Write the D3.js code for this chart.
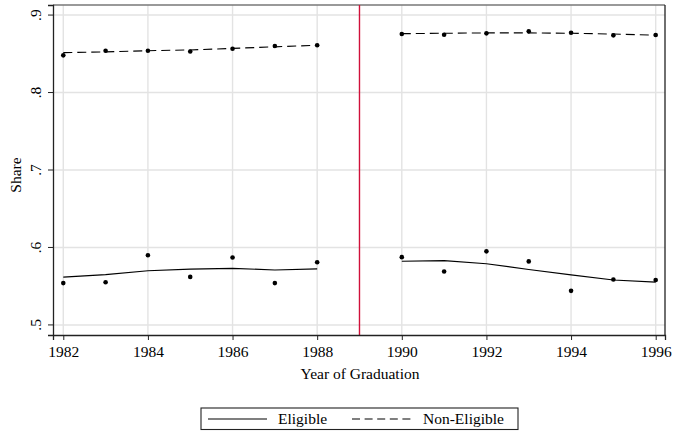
<!DOCTYPE html>
<html><head><meta charset="utf-8">
<script src="https://cdn.jsdelivr.net/npm/d3@7"></script>
<style>body{margin:0;background:#fff}svg{display:block}</style>
</head><body><svg id="c" width="673" height="432"></svg>
<script>
const yearsPre = [1982,1983,1984,1985,1986,1987,1988];
const yearsPost = [1990,1991,1992,1993,1994,1995,1996];
const eligPre = [0.554,0.555,0.590,0.562,0.587,0.554,0.581];
const eligPost = [0.5875,0.569,0.595,0.582,0.544,0.5587,0.558];
const eligFitPre = [0.5617,0.565,0.570,0.572,0.573,0.571,0.5724];
const eligFitPost = [0.5823,0.583,0.579,0.5716,0.5646,0.558,0.5553];
const nonPre = [0.848,0.854,0.854,0.853,0.8565,0.860,0.861];
const nonPost = [0.8755,0.8746,0.8764,0.879,0.8772,0.8738,0.8742];
const nonFitPre = [0.8515,0.8525,0.854,0.855,0.857,0.859,0.861];
const nonFitPost = [0.876,0.8765,0.877,0.877,0.8765,0.8755,0.874];
const xTicks = [1982,1984,1986,1988,1990,1992,1994,1996];
const yTicks = [0.5,0.6,0.7,0.8,0.9];
const yTickLabels = [".5",".6",".7",".8",".9"];
const cutoff = 1989;

const FONT = "'Liberation Serif', 'Times New Roman', Times, 'DejaVu Serif', serif";
const FS = "15.5px";
const svg = d3.select("#c");
const L=53, R=665, T=5, B=335;
const x = d3.scaleLinear().domain([1981.757,1996.22]).range([L,R]);
const y = d3.scaleLinear().domain([0.487,0.913]).range([B,T]);

// grid
svg.append("g").selectAll("line").data(xTicks).join("line")
  .attr("x1",d=>x(d)).attr("x2",d=>x(d)).attr("y1",T).attr("y2",B)
  .attr("stroke","#e3e3e3").attr("stroke-width",1.4);
svg.append("g").selectAll("line").data(yTicks).join("line")
  .attr("y1",d=>y(d)).attr("y2",d=>y(d)).attr("x1",L).attr("x2",R)
  .attr("stroke","#e3e3e3").attr("stroke-width",1.4);

// frame top/right
svg.append("line").attr("x1",L).attr("x2",R).attr("y1",T).attr("y2",T).attr("stroke","#777").attr("stroke-width",1.3);
svg.append("line").attr("x1",R).attr("x2",R).attr("y1",T).attr("y2",B).attr("stroke","#222").attr("stroke-width",1.3);

// cutoff line
svg.append("line").attr("x1",x(cutoff)).attr("x2",x(cutoff)).attr("y1",T).attr("y2",B)
  .attr("stroke","#d0103a").attr("stroke-width",1.4);

// axes
const xa = svg.append("g").attr("transform",`translate(0,${B})`)
  .call(d3.axisBottom(x).tickValues(xTicks).tickFormat(d3.format("d")).tickSize(5).tickPadding(6));
const ya = svg.append("g").attr("transform",`translate(${L},0)`)
  .call(d3.axisLeft(y).tickValues(yTicks).tickFormat((d,i)=>yTickLabels[i]).tickSize(5).tickPadding(0));
[xa,ya].forEach(a=>{a.attr("font-family",FONT).attr("font-size",FS);
  a.select(".domain").attr("stroke","#222").attr("stroke-width",1.3);
  a.selectAll(".tick line").attr("stroke","#222");
  a.selectAll("text").attr("font-family",FONT).attr("font-size",FS).attr("fill","#000");});
xa.selectAll("text").attr("dy","0.72em");
ya.selectAll("text").attr("text-anchor","middle").attr("x",0).attr("dy",0)
  .attr("transform",d=>`translate(${-12},${y(d)}) rotate(-90)`).attr("y",0);
ya.selectAll(".tick").attr("transform",null);
ya.selectAll(".tick line").attr("y1",d=>y(d)).attr("y2",d=>y(d));

// lines
const line = d3.line().x(d=>x(d[0])).y(d=>y(d[1]));
function drawLine(xs,vs,dash){
  svg.append("path").datum(xs.map((v,i)=>[v,vs[i]])).attr("d",line)
    .attr("fill","none").attr("stroke","#000").attr("stroke-width",1.1)
    .attr("stroke-dasharray",dash||null);
}
drawLine(yearsPre,eligFitPre);
drawLine(yearsPost,eligFitPost);
drawLine(yearsPre,nonFitPre,"9,5");
drawLine(yearsPost,nonFitPost,"9,5");

function drawPts(xs,vs){
  svg.append("g").selectAll("circle").data(xs.map((v,i)=>[v,vs[i]])).join("circle")
    .attr("cx",d=>x(d[0])).attr("cy",d=>y(d[1])).attr("r",2.3).attr("fill","#000");
}
drawPts(yearsPre,eligPre);drawPts(yearsPost,eligPost);
drawPts(yearsPre,nonPre);drawPts(yearsPost,nonPost);

function txt(g){return g.append("text").attr("font-family",FONT).attr("font-size",FS).attr("fill","#000");}
// axis titles
txt(svg).attr("x",(L+R)/2+1).attr("y",379).attr("text-anchor","middle").text("Year of Graduation");
txt(svg).attr("transform",`translate(21,${(T+B)/2+5}) rotate(-90)`).attr("text-anchor","middle").text("Share");

// legend
const lg = svg.append("g");
lg.append("rect").attr("x",201).attr("y",408).attr("width",317).attr("height",21.5)
  .attr("fill","#fff").attr("stroke","#222").attr("stroke-width",1.1);
lg.append("line").attr("x1",208).attr("x2",267).attr("y1",419).attr("y2",419).attr("stroke","#000").attr("stroke-width",1.1);
txt(lg).attr("x",278).attr("y",424).text("Eligible");
lg.append("line").attr("x1",352).attr("x2",414).attr("y1",419).attr("y2",419).attr("stroke","#000").attr("stroke-width",1.1).attr("stroke-dasharray","8,4.6");
txt(lg).attr("x",423).attr("y",424).text("Non-Eligible");
</script></body></html>
